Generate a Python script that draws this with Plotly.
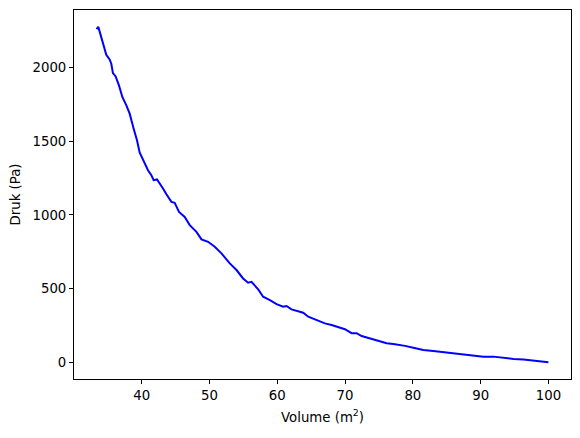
import plotly.graph_objects as go

volume = [33.35, 33.5, 33.6, 33.7, 34.05, 34.39, 34.78, 35.27, 35.52, 35.76, 36.16, 36.65, 37.15,
          37.74, 38.23, 38.82, 39.31, 39.7, 40.19, 40.93, 41.43, 41.77, 42.26, 42.6, 43.15,
          43.65, 44.39, 44.87, 45.51, 46.35, 47.09, 48.08, 48.82, 49.8, 50.78, 51.77, 53.0,
          53.99, 54.96, 55.7, 56.2, 57.19, 57.92, 58.91, 59.9, 60.87, 61.37, 62.11, 63.34,
          63.83, 64.57, 65.56, 66.29, 67.03, 68.02, 69.0, 69.98, 70.97, 71.71, 72.45, 73.68,
          74.9, 76.14, 77.12, 78.11, 78.85, 80.07, 81.55, 83.03, 84.5, 85.98, 87.46, 88.94,
          90.41, 91.89, 93.37, 94.85, 96.33, 97.8, 100.0]
druk = [2262, 2275, 2278, 2262, 2203, 2140, 2088, 2056, 2027, 1963, 1941, 1880, 1801,
        1744, 1688, 1586, 1507, 1425, 1372, 1304, 1270, 1236, 1241, 1220, 1180,
        1141, 1089, 1082, 1021, 987, 931, 885, 834, 818, 784, 739, 671,
        626, 569, 540, 546, 495, 445, 422, 395, 377, 382, 359, 343,
        336, 309, 291, 282, 264, 253, 237, 224, 197, 197, 178, 160,
        142, 129, 124, 119, 111, 99, 83, 77, 70, 61, 56, 49,
        38, 38, 29, 22, 18, 11, 0]

xmin, xmax = min(volume), max(volume)
ymin, ymax = min(druk), max(druk)
xpad = 0.05 * (xmax - xmin)
ypad = 0.05 * (ymax - ymin)

fig = go.Figure(go.Scatter(x=volume, y=druk, mode="lines",
                           line=dict(color="#0000ff", width=2)))

font = dict(family="DejaVu Sans", size=13.3, color="black")
axis_common = dict(showline=True, linecolor="black", linewidth=1, mirror=True,
                   ticks="outside", ticklen=4, tickwidth=1, tickcolor="black",
                   showgrid=False, zeroline=False, tickfont=font)

fig.update_layout(
    width=572, height=430,
    margin=dict(l=66, r=9, t=2, b=59),
    paper_bgcolor="white", plot_bgcolor="white",
    showlegend=False,
    xaxis=dict(range=[xmin - xpad, xmax + xpad], tickmode="array",
               tickvals=[40, 50, 60, 70, 80, 90, 100],
               title=dict(text="Volume (m<sup>2</sup>)", font=font, standoff=10),
               **axis_common),
    yaxis=dict(range=[ymin - ypad, ymax + ypad], tickmode="array",
               tickvals=[0, 500, 1000, 1500, 2000],
               title=dict(text="Druk (Pa)", font=font, standoff=10),
               **axis_common),
)

fig.write_html("out.html")
